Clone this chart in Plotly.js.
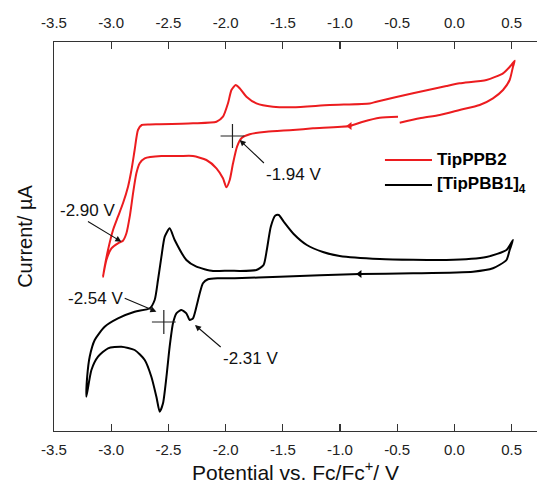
<!DOCTYPE html>
<html><head><meta charset="utf-8">
<script src="https://cdn.plot.ly/plotly-3.0.1.min.js"></script>
<style>html,body{margin:0;padding:0;background:#fff}#chart{width:537px;height:490px}</style>
</head><body><div id="chart"></div>
<script>
// Potential in V vs Fc/Fc+, current in arbitrary units (offset curves)
const seriesNames = ["TipPPB2", "[TipPBB1]<sub>4</sub>"];

const redPotential = [
 -0.493,-0.653,-0.799,-0.915,-1.236,-1.411,-1.643,-1.789,-1.862,-1.900,-1.935,-1.964,-1.993,-2.023,-2.080,-2.168,-2.285,-2.401,-2.561,-2.707,-2.751,-2.780,-2.809,-2.838,-2.867,-2.897,-2.941,-2.998,-3.042,-3.072,
 -3.057,-3.028,-2.984,-2.941,-2.897,-2.853,-2.823,-2.795,-2.766,-2.733,-2.663,-2.576,-2.285,-2.080,-2.023,-1.979,-1.949,-1.912,-1.877,-1.818,-1.731,-1.586,-1.411,-1.090,-0.740,-0.682,-0.362,-0.070,0.046,0.280,0.425,0.498,0.527,
 0.512,0.483,0.425,0.337,0.221,0.046,-0.128,-0.303,-0.478];
const redCurrent = [
 31.43,31.33,30.93,30.50,30.27,30.10,29.93,29.67,29.27,28.43,26.77,25.10,24.37,25.27,26.27,27.10,27.50,27.50,27.50,27.27,26.77,25.77,23.77,21.43,19.77,19.03,18.77,18.27,17.10,15.43,
 16.43,18.10,20.10,21.43,22.77,24.43,26.10,28.10,30.10,30.60,30.65,30.67,30.77,30.93,31.43,32.77,34.10,34.60,34.27,33.43,32.77,32.43,32.37,32.60,32.75,32.93,33.77,34.50,34.77,35.10,35.77,36.60,37.03,
 36.43,35.10,34.10,33.27,32.60,32.10,31.60,31.27,30.83];

const blackPotential = [
 0.512,0.483,0.455,0.337,0.163,-0.362,-0.828,-1.527,-1.920,-2.066,-2.154,-2.198,-2.226,-2.255,-2.285,-2.314,-2.343,-2.386,-2.430,-2.460,-2.489,-2.517,-2.547,-2.576,-2.605,-2.649,-2.707,-2.795,-2.911,-3.028,-3.115,-3.173,-3.217,
 -3.210,-3.188,-3.144,-3.057,-2.941,-2.795,-2.663,-2.620,-2.591,-2.561,-2.532,-2.489,-2.445,-2.343,-2.255,-2.110,-1.964,-1.877,-1.731,-1.668,-1.640,-1.605,-1.565,-1.535,-1.490,-1.405,-1.290,-1.149,-1.003,-0.653,-0.070,0.280,0.455,0.512];
const blackCurrent = [
 19.10,18.10,17.10,16.27,15.93,15.77,15.70,15.43,15.27,15.27,15.17,14.77,13.77,12.43,11.27,11.10,11.77,12.10,11.77,10.77,8.43,5.43,2.77,1.93,3.43,5.43,7.10,8.10,8.43,8.27,7.43,6.10,3.43,
 5.43,7.43,9.10,10.43,11.27,11.93,12.27,13.10,15.10,17.43,19.43,20.27,19.10,17.10,16.43,16.00,16.03,16.00,16.10,16.60,18.10,20.43,21.55,21.60,20.90,19.70,18.60,17.90,17.50,17.20,17.10,17.40,18.10,19.10];

// E1/2 crosses
const halfWavePotential = [-1.94, -2.54];
const halfWaveCurrent = [29.5, 10.9];

// peak labels: arrow head (peak) and text anchor (tail)
const peakLabels = ["-2.90 V", "-1.94 V", "-2.54 V", "-2.31 V"];
const peakPotential = [-2.911, -1.877, -2.605, -2.268];
const peakCurrent = [18.93, 29.1, 11.93, 10.6];
const tailPotential = [-3.203, -1.665, -2.882, -2.043];
const tailCurrent = [20.95, 26.8, 13.27, 8.40];
const labelXAnchor = ["center", "left", "right", "left"];
const labelYAnchor = ["bottom", "top", "middle", "top"];

// scan direction arrows
const scanPotential = [-0.915, -0.828];
const scanCurrent = [30.50, 15.70];

const xTicks = [-3.5,-3.0,-2.5,-2.0,-1.5,-1.0,-0.5,0.0,0.5];

const RED = "#ec1c1f";
const FONT = "Liberation Sans, Arial, Helvetica, sans-serif";

const traces = [
 {x: redPotential, y: redCurrent, mode: "lines", name: seriesNames[0],
  line: {color: RED, width: 2, shape: "spline", smoothing: 0.6}, showlegend: false, hoverinfo: "skip"},
 {x: blackPotential, y: blackCurrent, mode: "lines", name: seriesNames[1],
  line: {color: "#000", width: 2, shape: "spline", smoothing: 0.6}, showlegend: false, hoverinfo: "skip"},
 {x: halfWavePotential, y: halfWaveCurrent, mode: "markers", showlegend: false, hoverinfo: "skip",
  marker: {symbol: "cross-thin", size: 17, line: {color: "#222", width: 1.2}}},
 {x: scanPotential, y: scanCurrent, mode: "markers", showlegend: false, hoverinfo: "skip",
  marker: {symbol: "triangle-left", size: 7, color: [RED, "#000"], line: {width: 0}}},
 {x: [xTicks[0]], y: [null], xaxis: "x2", mode: "lines", showlegend: false, hoverinfo: "skip"}
];

const annotations = [];
for (let i = 0; i < peakLabels.length; i++) {
  annotations.push({x: peakPotential[i], y: peakCurrent[i], xref: "x", yref: "y",
    ax: tailPotential[i], ay: tailCurrent[i], axref: "x", ayref: "y",
    text: peakLabels[i], xanchor: labelXAnchor[i], yanchor: labelYAnchor[i],
    font: {family: FONT, size: 17, color: "#111"}, borderpad: 1,
    showarrow: true, arrowhead: 2, arrowsize: 1.1, arrowwidth: 1.1, arrowcolor: "#111", standoff: 0});
}
// legend
const legendY = [0.6967, 0.6324];
const legendColors = [RED, "#000"];
const shapes = [];
for (let i = 0; i < seriesNames.length; i++) {
  annotations.push({x: 0.7894, y: legendY[i], xref: "paper", yref: "paper", xanchor: "left", yanchor: "middle",
    text: "<b>" + seriesNames[i] + "</b>", showarrow: false, font: {family: FONT, size: 17, color: "#000"}});
  shapes.push({type: "line", xref: "paper", yref: "paper", x0: 0.6852, x1: 0.7826, y0: legendY[i], y1: legendY[i],
    line: {color: legendColors[i], width: 1.8}});
}

const axisCommon = {
  range: [-3.5, 0.722], tickvals: xTicks, ticktext: xTicks.map(v => v.toFixed(1)),
  ticks: "inside", ticklen: 7, tickwidth: 1.2, tickcolor: "#333",
  showline: true, linecolor: "#333", linewidth: 1.3, showgrid: false, zeroline: false,
  tickfont: {family: FONT, size: 15, color: "#222"}, fixedrange: true
};

const layout = {
  width: 537, height: 490,
  margin: {l: 54, r: 0, t: 42, b: 59},
  paper_bgcolor: "#fff", plot_bgcolor: "#fff",
  font: {family: FONT},
  xaxis: Object.assign({}, axisCommon, {
    title: {text: "Potential vs. Fc/Fc<sup>+</sup>/ V", font: {family: FONT, size: 21, color: "#111"}, standoff: 6},
    ticklabelstandoff: 5
  }),
  xaxis2: Object.assign({}, axisCommon, {overlaying: "x", side: "top", anchor: "y", ticklabelstandoff: 7}),
  yaxis: {range: [0, 38.9], showline: true, linecolor: "#333", linewidth: 1.3, ticks: "", showticklabels: false,
    showgrid: false, zeroline: false, fixedrange: true,
    title: {text: "Current/ µA", font: {family: FONT, size: 20, color: "#111"}, standoff: 14}},
  annotations: annotations,
  shapes: shapes,
  showlegend: false
};

Plotly.newPlot("chart", traces, layout, {staticPlot: true, displayModeBar: false});
</script>
</body></html>
